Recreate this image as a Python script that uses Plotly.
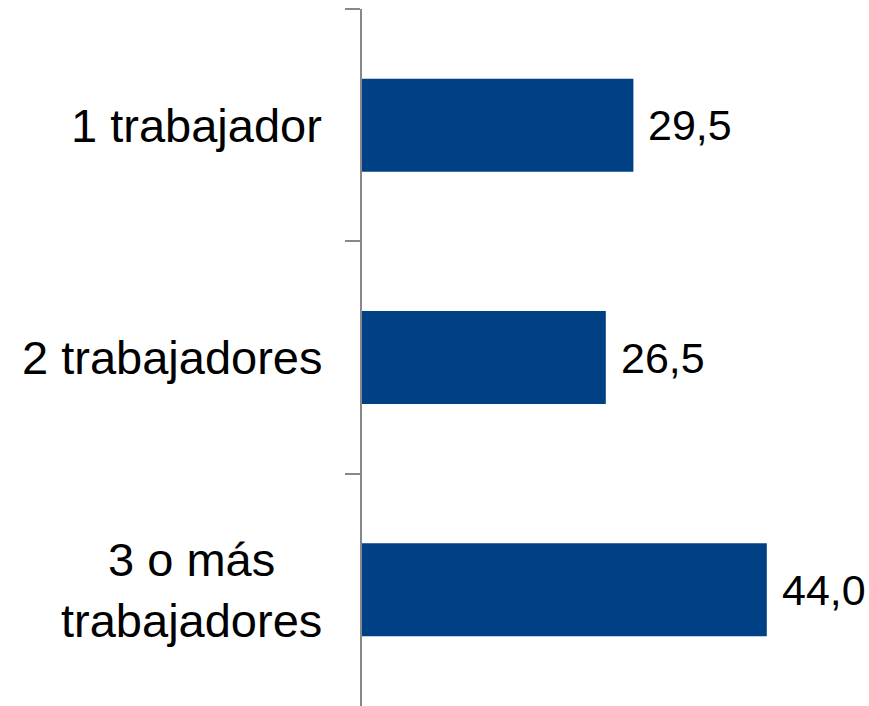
import plotly.graph_objects as go

categories = ["1 trabajador", "2 trabajadores", "3 o más<br>trabajadores"]
values = [29.5, 26.5, 44.0]
value_labels = [f"{v:.1f}".replace(".", ",") for v in values]

BAR_COLOR = "#004185"
FONT = "Liberation Sans, Arial, sans-serif"

fig = go.Figure(
    go.Bar(
        x=values,
        y=categories,
        orientation="h",
        marker=dict(color=BAR_COLOR, line=dict(width=0)),
        hoverinfo="skip",
    )
)

annotations = []
for cat, v, lab in zip(categories, values, value_labels):
    annotations.append(dict(
        x=v, y=cat, xref="x", yref="y", text=lab, showarrow=False,
        xanchor="left", yanchor="middle", xshift=13,
        font=dict(family=FONT, size=43, color="black"),
    ))
    annotations.append(dict(
        x=0, y=cat, xref="x", yref="y", text=cat, showarrow=False,
        xanchor="right", yanchor="middle", xshift=-38, align="center",
        font=dict(family=FONT, size=47, color="black"),
    ))

fig.update_layout(
    width=869, height=706,
    margin=dict(l=362, r=47, t=9, b=0),
    paper_bgcolor="white", plot_bgcolor="white",
    bargap=0.6,
    showlegend=False,
    annotations=annotations,
    font=dict(family=FONT, color="black"),
)
fig.update_xaxes(range=[0, 50], visible=False, showgrid=False, zeroline=False)
fig.update_yaxes(
    autorange="reversed", type="category",
    showline=True, linecolor="#888888", linewidth=2,
    ticks="outside", ticklen=15, tickwidth=2, tickcolor="#888888",
    tickson="boundaries", showticklabels=False, showgrid=False,
)

fig.write_html(
    "out.html",
    config={"displayModeBar": False},
    post_script="document.body.style.margin='0';document.body.style.overflow='hidden';",
)
